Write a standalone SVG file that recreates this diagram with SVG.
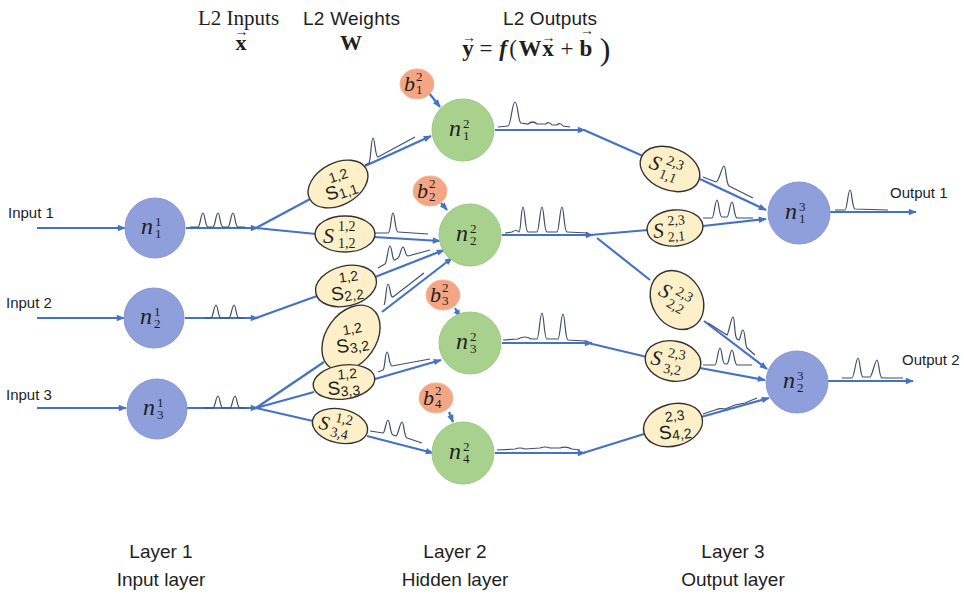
<svg xmlns="http://www.w3.org/2000/svg" width="964" height="597" viewBox="0 0 964 597">
<defs>
<marker id="ah" viewBox="0 0 10 10" refX="9" refY="5" markerWidth="9" markerHeight="8" markerUnits="userSpaceOnUse" orient="auto">
<path d="M0,1 L10,5 L0,9 z" fill="#4472c4"/>
</marker>
<style>
.c{stroke:#4472c4;stroke-width:2.2;fill:none}
.a{marker-end:url(#ah)}
.sp{stroke:#3f4f6b;stroke-width:1.2;fill:none}
.nb{fill:#8e9fdb;stroke:#8797d2;stroke-width:1}
.ng{fill:#a9d18e;stroke:#9cc982;stroke-width:1}
.nr{fill:#f4a583;stroke:#efb59c;stroke-width:1}
.syn{fill:#fdefc7;stroke:#333;stroke-width:1.4}
.m{font-family:"Liberation Serif",serif;font-style:italic;fill:#1e1e1e}
.u{font-family:"Liberation Serif",serif;fill:#1e1e1e}
.s{font-family:"Liberation Sans",sans-serif;fill:#1e1e1e}
.up{font-style:normal}
</style>
</defs>
<rect width="964" height="597" fill="#fff"/>

<!-- header -->
<g id="header">
<text class="u" x="198" y="25" font-size="21">L2 Inputs</text>
<text class="s" x="303" y="25" font-size="19" textLength="97">L2 Weights</text>
<text class="s" x="503" y="25" font-size="19" textLength="94">L2 Outputs</text>
<text class="u" font-size="22" font-weight="bold" text-anchor="middle"><tspan x="241" y="50">x</tspan><tspan x="241.5" y="36" font-size="14" font-weight="normal">→</tspan></text>
<text class="u" x="351" y="50" font-size="22" font-weight="bold" text-anchor="middle">W</text>
<text class="u" font-size="23" text-anchor="middle"><tspan x="468" y="56" font-weight="bold">y</tspan><tspan x="469" y="42" font-size="14">→</tspan><tspan x="486" y="56">=</tspan><tspan x="503" y="56" font-weight="bold" font-style="italic">f</tspan><tspan x="513" y="56">(</tspan><tspan x="530" y="56" font-weight="bold">W</tspan><tspan x="548" y="56" font-weight="bold">x</tspan><tspan x="548.5" y="42" font-size="14">→</tspan><tspan x="567" y="56">+</tspan><tspan x="586" y="56" font-weight="bold">b</tspan><tspan x="587" y="35" font-size="14">→</tspan><tspan x="605" y="60" font-size="32">)</tspan></text>
</g>

<!-- connectors -->
<g id="connectors">
<path class="c a" d="M37,228 L125,228"/>
<path class="c a" d="M37,318 L124,318"/>
<path class="c a" d="M37,408 L126,408"/>
<path class="c a" d="M186,228 L258,228"/>
<path class="c" d="M256,228 L312,198"/>
<path class="c" d="M256,228 L316,234"/>
<path class="c a" d="M365,166 L431,136"/>
<path class="c a" d="M374,237 L440,241"/>
<path class="c a" d="M185,318 L258,318"/>
<path class="c" d="M256,318 L317,296"/>
<path class="c a" d="M375,277 L444,250"/>
<path class="c a" d="M187,408 L258,408"/>
<path class="c" d="M256,408 L324,362"/>
<path class="c" d="M256,408 L314,392"/>
<path class="c" d="M256,408 L313,421"/>
<path class="c a" d="M382,312 L452,258"/>
<path class="c a" d="M375,379 L441,360"/>
<path class="c a" d="M367,436 L433,453"/>
<path class="c a" d="M429,93 L440,107"/>
<path class="c a" d="M441,203 L447,210"/>
<path class="c a" d="M455,308 L460,317"/>
<path class="c a" d="M449,412 L453,422"/>
<path class="c a" d="M495,130 L585,130"/>
<path class="c" d="M584,130 L643,156"/>
<path class="c a" d="M700,179 L766,210"/>
<path class="c a" d="M502,235 L593,235"/>
<path class="c" d="M590,235 L648,230"/>
<path class="c" d="M597,238 L650,280"/>
<path class="c a" d="M703,226 L766,219"/>
<path class="c a" d="M704,321 L767,369"/>
<path class="c a" d="M502,343 L592,343"/>
<path class="c" d="M588,343 L647,357"/>
<path class="c a" d="M700,368 L765,380"/>
<path class="c a" d="M495,453 L585,453"/>
<path class="c" d="M583,453 L644,434"/>
<path class="c a" d="M701,417 L769,398"/>
<path class="c a" d="M829,212 L916,212"/>
<path class="c a" d="M827,381 L913,381"/>
</g>

<!-- spike trains -->
<g id="spikes">
<path class="sp" d="M190,227 L198,227 C200,227 201,213 203,213 C205,213 205,227 208,227 L213,227 C215,227 216,213 218,213 C220,213 220,227 223,227 L228,227 C230,227 231,213 233,213 C235,213 235,227 238,227 L245,227"/>
<path class="sp" d="M205,318 L211,318 C213,318 214,305 216,305 C218,305 218,318 221,318 L229,318 C231,318 232,305 234,305 C236,305 236,318 239,318 L244,318"/>
<path class="sp" d="M205,408 L213,408 C215,408 216,396 218,396 C220,396 220,408 223,408 L230,408 C232,408 233,396 235,396 C237,396 237,408 240,408 L246,408"/>
<path class="sp" d="M365,165 L369,163 C371,160 371,138 373,138 C375,138 375,157 378,157 L415,137"/>
<path class="sp" d="M375,233 L388,233 C391,233 391,213 393,213 C395,213 395,232 398,232 L428,234"/>
<path class="sp" d="M378,268 L385,264 C387,263 388,246 390,246 C392,246 392,261 395,260 L398,258 C400,257 401,247 403,247 C405,247 405,256 408,256 L430,250"/>
<path class="sp" d="M384,305 C386,302 386,284 388,284 C390,284 390,298 393,297 L424,273"/>
<path class="sp" d="M378,372 L383,370 C385,369 385,352 387,352 C389,352 389,366 392,366 L430,359"/>
<path class="sp" d="M370,431 L383,433 C385,433 386,420 388,420 C390,420 390,434 393,435 L396,436 C398,436 400,422 402,422 C404,422 404,437 407,438 L422,443"/>
<path class="sp" d="M498,127 L508,126 C511,126 512,102 515,102 C518,102 518,122 521,123 L528,124 Q533,120 537,124 L546,124 Q549,121 552,125 L557,125 Q560,122 563,126 L570,127"/>
<path class="sp" d="M505,233 L512,232 Q516,229 519,232 C521,232 521,207 523,207 C525,207 525,232 528,232 L537,232 C539,232 540,207 542,207 C544,207 544,232 547,232 L557,232 C559,232 560,207 562,207 C564,207 564,232 567,232 L588,233"/>
<path class="sp" d="M503,340 L518,339 Q525,335 531,339 L537,339 C539,339 540,313 542,313 C544,313 544,339 547,339 L558,339 C560,339 561,314 563,314 C565,314 565,339 568,340 L585,341"/>
<path class="sp" d="M497,450 L515,449 Q520,447 525,449 L540,448 Q545,446 550,448 L560,448 Q566,446 572,449 L580,450"/>
<path class="sp" d="M703,177 L716,182 C719,182 722,166 724,166 C726,166 726,184 729,186 L753,198"/>
<path class="sp" d="M703,218 L712,218 C714,218 715,200 717,200 C719,200 719,217 722,217 L727,217 C729,217 730,202 732,202 C734,202 734,217 737,218 L753,218"/>
<path class="sp" d="M708,323 L727,335 C729,333 731,317 733,317 C735,317 734,336 737,339 L739,340 C741,338 741,330 743,330 C745,330 745,345 747,348 L755,355"/>
<path class="sp" d="M703,365 L715,365 C717,365 718,348 720,348 C722,348 722,364 725,364 L727,364 C729,364 730,350 732,350 C734,350 734,364 737,365 L752,365"/>
<path class="sp" d="M703,414 L715,410 Q720,408 725,409 L735,405 Q740,404 745,403 L757,398"/>
<path class="sp" d="M835,210 L845,210 C847,210 848,190 850,190 C852,190 852,208 855,209 L888,210"/>
<path class="sp" d="M842,378 L852,378 C854,378 856,358 858,358 C860,358 860,376 863,377 L870,377 C872,377 875,360 877,360 C879,360 879,377 882,378 L903,378"/>
</g>

<!-- layer 1 -->
<g id="n1_1"><circle class="nb" cx="155" cy="228" r="30"/><text class="m" font-size="24"><tspan x="141" y="234">n</tspan><tspan class="up" font-size="13" x="155" y="226">1</tspan><tspan class="up" font-size="13" x="155" y="238">1</tspan></text></g>
<g id="n1_2"><circle class="nb" cx="154" cy="318" r="30"/><text class="m" font-size="24"><tspan x="140" y="324">n</tspan><tspan class="up" font-size="13" x="154" y="316">1</tspan><tspan class="up" font-size="13" x="154" y="328">2</tspan></text></g>
<g id="n1_3"><circle class="nb" cx="157" cy="409" r="30"/><text class="m" font-size="24"><tspan x="143" y="415">n</tspan><tspan class="up" font-size="13" x="157" y="407">1</tspan><tspan class="up" font-size="13" x="157" y="419">3</tspan></text></g>

<!-- layer 2 -->
<g id="n2_1"><circle class="ng" cx="463" cy="130" r="31"/><text class="m" font-size="24"><tspan x="449" y="136">n</tspan><tspan class="up" font-size="13" x="463" y="128">2</tspan><tspan class="up" font-size="13" x="463" y="140">1</tspan></text></g>
<g id="n2_2"><circle class="ng" cx="470" cy="235" r="31"/><text class="m" font-size="24"><tspan x="456" y="241">n</tspan><tspan class="up" font-size="13" x="470" y="233">2</tspan><tspan class="up" font-size="13" x="470" y="245">2</tspan></text></g>
<g id="n2_3"><circle class="ng" cx="470" cy="343" r="31"/><text class="m" font-size="24"><tspan x="456" y="349">n</tspan><tspan class="up" font-size="13" x="470" y="341">2</tspan><tspan class="up" font-size="13" x="470" y="353">3</tspan></text></g>
<g id="n2_4"><circle class="ng" cx="463" cy="453" r="31"/><text class="m" font-size="24"><tspan x="449" y="459">n</tspan><tspan class="up" font-size="13" x="463" y="451">2</tspan><tspan class="up" font-size="13" x="463" y="463">4</tspan></text></g>

<!-- biases -->
<g id="b2_1"><ellipse class="nr" cx="417" cy="84" rx="17" ry="15"/><text class="m" font-size="22"><tspan x="404" y="91">b</tspan><tspan class="up" font-size="13" x="416" y="81">2</tspan><tspan class="up" font-size="13" x="416" y="94">1</tspan></text></g>
<g id="b2_2"><ellipse class="nr" cx="430" cy="191" rx="17" ry="15"/><text class="m" font-size="22"><tspan x="417" y="198">b</tspan><tspan class="up" font-size="13" x="429" y="188">2</tspan><tspan class="up" font-size="13" x="429" y="201">2</tspan></text></g>
<g id="b2_3"><ellipse class="nr" cx="443" cy="295" rx="17" ry="15"/><text class="m" font-size="22"><tspan x="430" y="302">b</tspan><tspan class="up" font-size="13" x="442" y="292">2</tspan><tspan class="up" font-size="13" x="442" y="305">3</tspan></text></g>
<g id="b2_4"><ellipse class="nr" cx="436" cy="398" rx="17" ry="15"/><text class="m" font-size="22"><tspan x="423" y="405">b</tspan><tspan class="up" font-size="13" x="435" y="395">2</tspan><tspan class="up" font-size="13" x="435" y="408">4</tspan></text></g>

<!-- layer 3 -->
<g id="n3_1"><circle class="nb" cx="799" cy="213" r="31"/><text class="m" font-size="24"><tspan x="785" y="219">n</tspan><tspan class="up" font-size="13" x="799" y="211">3</tspan><tspan class="up" font-size="13" x="799" y="223">1</tspan></text></g>
<g id="n3_2"><circle class="nb" cx="797" cy="382" r="31"/><text class="m" font-size="24"><tspan x="783" y="388">n</tspan><tspan class="up" font-size="13" x="797" y="380">3</tspan><tspan class="up" font-size="13" x="797" y="392">2</tspan></text></g>

<!-- synapses L1->L2 -->
<g id="s12_11" transform="translate(338,184) rotate(-28)"><ellipse class="syn" cx="0" cy="0" rx="32" ry="21"/><text class="s" font-size="14" transform="rotate(10)"><tspan x="-7" y="-3">1,2</tspan><tspan x="-15" y="13" font-size="19">S</tspan><tspan x="-2" y="15">1,1</tspan></text></g>
<g id="s12_12" transform="translate(345,234)"><ellipse class="syn" cx="0" cy="0" rx="30" ry="18"/><text class="u" font-size="14"><tspan class="m" x="-22" y="9" font-size="22">S</tspan><tspan x="-7" y="-3">1,2</tspan><tspan x="-7" y="14">1,2</tspan></text></g>
<g id="s12_22" transform="translate(346,286) rotate(-14)"><ellipse class="syn" cx="0" cy="0" rx="31" ry="20"/><text class="s" font-size="14" transform="rotate(6)"><tspan x="-6" y="-4">1,2</tspan><tspan x="-16" y="13" font-size="19">S</tspan><tspan x="-3" y="15">2,2</tspan></text></g>
<g id="s12_32" transform="translate(351,338) rotate(-55)"><ellipse class="syn" cx="0" cy="0" rx="36" ry="25"/><text class="s" font-size="14" transform="rotate(45)"><tspan x="-7" y="-4">1,2</tspan><tspan x="-16" y="13" font-size="19">S</tspan><tspan x="-3" y="15">3,2</tspan></text></g>
<g id="s12_33" transform="translate(344,382) rotate(-8)"><ellipse class="syn" cx="0" cy="0" rx="31" ry="17"/><text class="s" font-size="14" transform="rotate(4)"><tspan x="-6" y="-3">1,2</tspan><tspan x="-17" y="12" font-size="19">S</tspan><tspan x="-4" y="14">3,3</tspan></text></g>
<g id="s12_34" transform="translate(340,426) rotate(12)"><ellipse class="syn" cx="0" cy="0" rx="28" ry="17"/><text class="u" font-size="14"><tspan class="m" x="-21" y="7" font-size="20">S</tspan><tspan x="-6" y="-3">1,2</tspan><tspan x="-8" y="12">3,4</tspan></text></g>

<!-- synapses L2->L3 -->
<g id="s23_11" transform="translate(670,169) rotate(22)"><ellipse class="syn" cx="0" cy="0" rx="31" ry="21"/><text class="u" font-size="14"><tspan class="m" x="-21" y="7" font-size="21">S</tspan><tspan x="-6" y="-3">2,3</tspan><tspan x="-8" y="12">1,1</tspan></text></g>
<g id="s23_21" transform="translate(675,228) rotate(-5)"><ellipse class="syn" cx="0" cy="0" rx="28" ry="18"/><text class="u" font-size="14"><tspan class="m" x="-22" y="8" font-size="21">S</tspan><tspan x="-7" y="-3">2,3</tspan><tspan x="-8" y="13">2,1</tspan></text></g>
<g id="s23_22" transform="translate(677,300) rotate(58)"><ellipse class="syn" cx="0" cy="0" rx="31" ry="25"/><text class="u" font-size="14" transform="rotate(-28)"><tspan class="m" x="-20" y="5" font-size="21">S</tspan><tspan x="-5" y="-4">2,3</tspan><tspan x="-7" y="11">2,2</tspan></text></g>
<g id="s23_32" transform="translate(673,361) rotate(10)"><ellipse class="syn" cx="0" cy="0" rx="28" ry="20"/><text class="u" font-size="14"><tspan class="m" x="-22" y="7" font-size="21">S</tspan><tspan x="-6" y="-3">2,3</tspan><tspan x="-8" y="13">3,2</tspan></text></g>
<g id="s23_42" transform="translate(673,425) rotate(-15)"><ellipse class="syn" cx="0" cy="0" rx="30" ry="21"/><text class="s" font-size="14" transform="rotate(8)"><tspan x="-7" y="-4">2,3</tspan><tspan x="-15" y="13" font-size="19">S</tspan><tspan x="-2" y="15">4,2</tspan></text></g>

<!-- IO labels -->
<g id="labels">
<text class="s" x="8" y="218" font-size="15">Input 1</text>
<text class="s" x="6" y="308" font-size="15">Input 2</text>
<text class="s" x="6" y="400" font-size="15">Input 3</text>
<text class="s" x="890" y="198" font-size="15">Output 1</text>
<text class="s" x="902" y="365" font-size="15">Output 2</text>
<text class="s" x="161" y="558" font-size="19" text-anchor="middle">Layer 1</text>
<text class="s" x="161" y="586" font-size="19" text-anchor="middle">Input layer</text>
<text class="s" x="455" y="558" font-size="19" text-anchor="middle">Layer 2</text>
<text class="s" x="455" y="586" font-size="19" text-anchor="middle">Hidden layer</text>
<text class="s" x="733" y="558" font-size="19" text-anchor="middle">Layer 3</text>
<text class="s" x="733" y="586" font-size="19" text-anchor="middle">Output layer</text>
</g>
</svg>
